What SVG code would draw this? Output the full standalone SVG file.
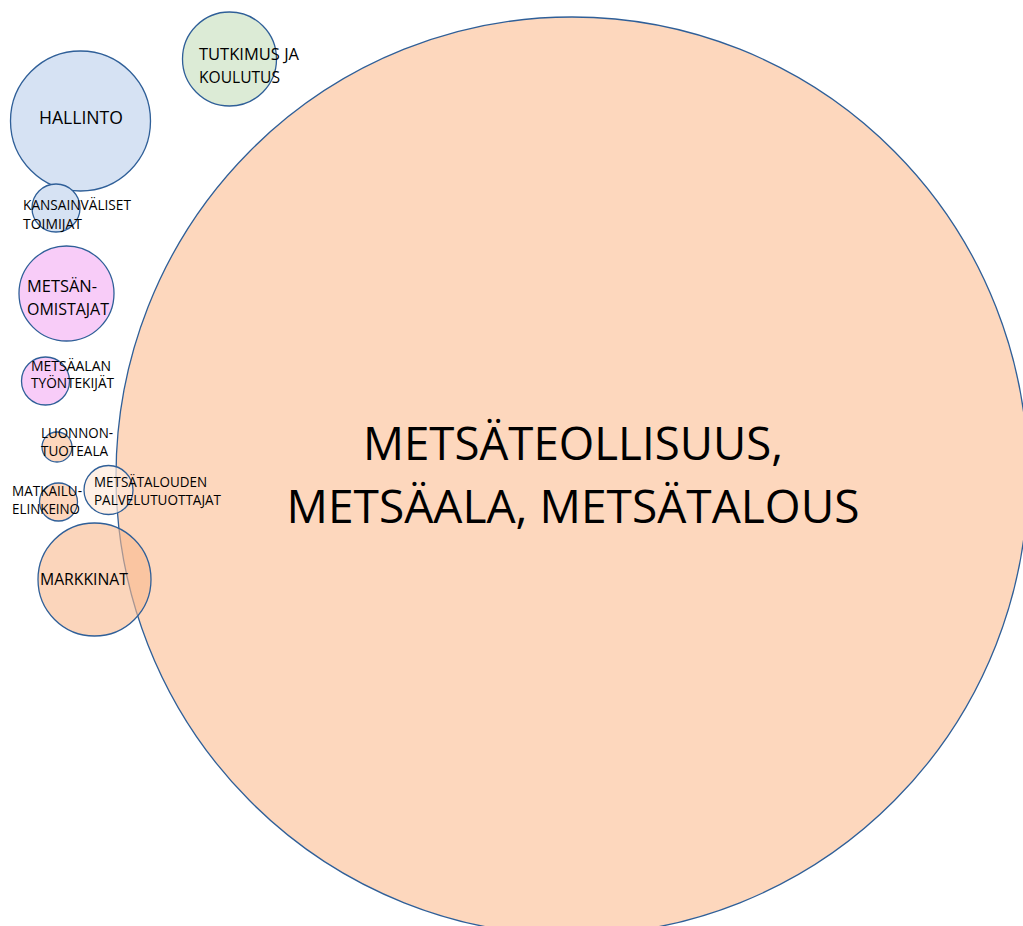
<svg xmlns="http://www.w3.org/2000/svg" width="1023" height="926" viewBox="0 0 1023 926">
<style>
.c{stroke:#2f5f98;stroke-width:1.3}
.t{font-family:"Open Sans","Liberation Sans",sans-serif;fill:#000}
.peach{fill:#fdd7bd}
.blue{fill:#d6e2f3}
.green{fill:#dcebd6}
.pink{fill:#f8ccf8}
</style>
<rect width="1023" height="926" fill="#ffffff"/>
<g id="metsateollisuus">
<ellipse class="c peach" cx="572" cy="476" rx="456" ry="459"/>
<text class="t" x="573" y="460" font-size="46" text-anchor="middle" textLength="420" lengthAdjust="spacingAndGlyphs">METSÄTEOLLISUUS,</text>
<text class="t" x="573" y="523" font-size="46" text-anchor="middle" textLength="573" lengthAdjust="spacingAndGlyphs">METSÄALA, METSÄTALOUS</text>
</g>
<g id="tutkimus">
<circle class="c green" cx="229.5" cy="59" r="47"/>
<text class="t" x="199" y="60" font-size="16" textLength="100" lengthAdjust="spacingAndGlyphs">TUTKIMUS JA</text>
<text class="t" x="199" y="83" font-size="16" textLength="81" lengthAdjust="spacingAndGlyphs">KOULUTUS</text>
</g>
<g id="hallinto">
<circle class="c blue" cx="80.5" cy="121" r="70"/>
<text class="t" x="39" y="124" font-size="18" textLength="84" lengthAdjust="spacingAndGlyphs">HALLINTO</text>
</g>
<g id="kansainvaliset">
<circle class="c blue" cx="56" cy="208" r="24"/>
<text class="t" x="23" y="210" font-size="14" textLength="108" lengthAdjust="spacingAndGlyphs">KANSAINVÄLISET</text>
<text class="t" x="23" y="229" font-size="14" textLength="59" lengthAdjust="spacingAndGlyphs">TOIMIJAT</text>
</g>
<g id="metsanomistajat">
<circle class="c pink" cx="66.5" cy="293.5" r="47.5"/>
<text class="t" x="27" y="292" font-size="16" textLength="70" lengthAdjust="spacingAndGlyphs">METSÄN-</text>
<text class="t" x="27" y="315" font-size="16" textLength="82" lengthAdjust="spacingAndGlyphs">OMISTAJAT</text>
</g>
<g id="tyontekijat">
<circle class="c pink" cx="45.5" cy="381" r="24"/>
<text class="t" x="31" y="371" font-size="14" textLength="80" lengthAdjust="spacingAndGlyphs">METSÄALAN</text>
<text class="t" x="31" y="388" font-size="14" textLength="83" lengthAdjust="spacingAndGlyphs">TYÖNTEKIJÄT</text>
</g>
<g id="luonnontuoteala">
<circle class="c peach" cx="57" cy="447" r="15"/>
<text class="t" x="41" y="438" font-size="14" textLength="72" lengthAdjust="spacingAndGlyphs">LUONNON-</text>
<text class="t" x="41" y="456" font-size="14" textLength="67" lengthAdjust="spacingAndGlyphs">TUOTEALA</text>
</g>
<g id="matkailu">
<circle class="c peach" cx="58.5" cy="502" r="19"/>
<text class="t" x="12" y="496" font-size="14" textLength="70" lengthAdjust="spacingAndGlyphs">MATKAILU-</text>
<text class="t" x="12" y="514" font-size="14" textLength="68" lengthAdjust="spacingAndGlyphs">ELINKEINO</text>
</g>
<g id="palvelutuottajat">
<circle class="c" cx="108.5" cy="490" r="24.5" fill="#fde9dc" fill-opacity="0.7"/>
<text class="t" x="94" y="487" font-size="14" textLength="113" lengthAdjust="spacingAndGlyphs">METSÄTALOUDEN</text>
<text class="t" x="94" y="505" font-size="14" textLength="127" lengthAdjust="spacingAndGlyphs">PALVELUTUOTTAJAT</text>
</g>
<g id="markkinat">
<circle class="c" cx="94.5" cy="579.5" r="56.5" fill="#f9b98e" fill-opacity="0.6"/>
<text class="t" x="40" y="585" font-size="16" textLength="88" lengthAdjust="spacingAndGlyphs">MARKKINAT</text>
</g>
<g id="connectors"/>
</svg>
